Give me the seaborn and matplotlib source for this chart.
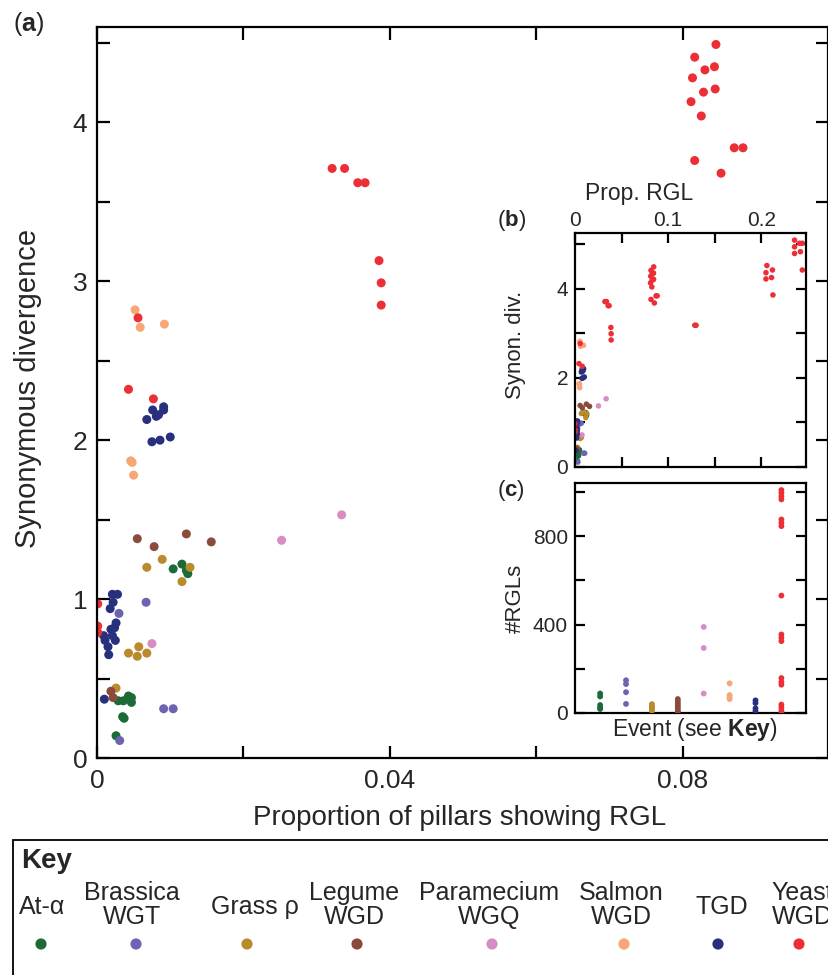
import numpy as np
import pandas as pd
import seaborn as sns
import matplotlib.pyplot as plt
from matplotlib.patches import Rectangle

# ---- data ----
EVENTS = ["At-α", "Brassica\nWGT", "Grass ρ", "Legume\nWGD",
          "Paramecium\nWGQ", "Salmon\nWGD", "TGD", "Yeast\nWGD"]
COLORS = ["#1b6a37", "#6c64b2", "#ba8b2c", "#8b4b3c",
          "#d78cc3", "#f9a677", "#28307e", "#ec2f36"]

# proportion of pillars showing RGL / synonymous divergence, per event
at_prop = [0.0104, 0.0116, 0.0122, 0.0124, 0.0029, 0.0036, 0.0043, 0.0047, 0.0047, 0.0035, 0.0037, 0.0026]
at_ds = [1.19, 1.22, 1.18, 1.16, 0.36, 0.36, 0.39, 0.38, 0.35, 0.26, 0.25, 0.14]
bras_prop = [0.0067, 0.0030, 0.0091, 0.0104, 0.0031]
bras_ds = [0.98, 0.91, 0.31, 0.31, 0.11]
grass_prop = [0.0089, 0.0068, 0.0127, 0.0116, 0.0043, 0.0055, 0.0057, 0.0068, 0.0026]
grass_ds = [1.25, 1.20, 1.20, 1.11, 0.66, 0.64, 0.70, 0.66, 0.44]
leg_prop = [0.0055, 0.0078, 0.0122, 0.0156, 0.0019, 0.0022]
leg_ds = [1.38, 1.33, 1.41, 1.36, 0.42, 0.38]
para_prop = [0.0252, 0.0334, 0.0075]
para_ds = [1.37, 1.53, 0.72]
salm_prop = [0.0052, 0.0059, 0.0092, 0.0046, 0.0048, 0.0050]
salm_ds = [2.82, 2.71, 2.73, 1.87, 1.86, 1.78]
tgd_prop = [0.0076, 0.0091, 0.0091, 0.0084, 0.0081, 0.0068, 0.0075, 0.0086, 0.0100,
            0.0021, 0.0028, 0.0022, 0.0018, 0.0026, 0.0024, 0.0019, 0.0009, 0.0021,
            0.0011, 0.0025, 0.0015, 0.0016, 0.0010]
tgd_ds = [2.19, 2.21, 2.19, 2.16, 2.15, 2.13, 1.99, 2.00, 2.02,
          1.03, 1.03, 0.98, 0.94, 0.85, 0.82, 0.81, 0.77, 0.77,
          0.74, 0.74, 0.70, 0.65, 0.37]
yeast_prop = [0.0001, 0.0001, 0.0001, 0.0043, 0.0077, 0.0056,
              0.0321, 0.0338, 0.0356, 0.0366, 0.0385, 0.0388, 0.0388,
              0.0845, 0.0816, 0.0843, 0.0830, 0.0813, 0.0844, 0.0828, 0.0811, 0.0825,
              0.0870, 0.0882, 0.0816, 0.0852,
              0.1286, 0.1300,
              0.206, 0.212, 0.205, 0.211, 0.205, 0.2125,
              0.2357, 0.241, 0.244, 0.2357, 0.242, 0.2357, 0.244]
yeast_ds = [0.97, 0.83, 0.79, 2.32, 2.26, 2.77,
            3.71, 3.71, 3.62, 3.62, 3.13, 2.99, 2.85,
            4.49, 4.41, 4.35, 4.33, 4.28, 4.21, 4.19, 4.13, 4.04,
            3.84, 3.84, 3.76, 3.68,
            3.18, 3.18,
            4.52, 4.42, 4.36, 4.25, 4.22, 3.86,
            5.09, 5.02, 5.02, 4.94, 4.83, 4.79, 4.42]

# number of RGLs per event (panel c)
at_n = [88, 75, 36, 24, 18]
bras_n = [148, 131, 94, 41]
grass_n = [40, 32, 25, 18, 10]
leg_n = [63, 52, 42, 32, 22, 12, 5]
para_n = [389, 294, 88]
salm_n = [134, 81, 70, 63]
tgd_n = [57, 45, 21, 9]
yeast_n = [1008, 995, 980, 966, 875, 860, 845, 531, 355, 340, 325, 158, 140, 128, 38, 25, 10, 0]

props = [at_prop, bras_prop, grass_prop, leg_prop, para_prop, salm_prop, tgd_prop, yeast_prop]
dss = [at_ds, bras_ds, grass_ds, leg_ds, para_ds, salm_ds, tgd_ds, yeast_ds]
counts = [at_n, bras_n, grass_n, leg_n, para_n, salm_n, tgd_n, yeast_n]

df = pd.concat([pd.DataFrame({"event": e, "prop": p, "ds": d})
                for e, p, d in zip(EVENTS, props, dss)], ignore_index=True)
dfc = pd.concat([pd.DataFrame({"event": e, "n": n})
                 for e, n in zip(EVENTS, counts)], ignore_index=True)
palette = dict(zip(EVENTS, COLORS))

sns.set_style("ticks")
plt.rcParams["font.family"] = ["Liberation Sans", "DejaVu Sans"]
plt.rcParams["mathtext.fontset"] = "custom"
plt.rcParams["mathtext.rm"] = "Liberation Sans"
plt.rcParams["mathtext.bf"] = "Liberation Sans:bold"

W, H = 829, 975
fig = plt.figure(figsize=(W / 100, H / 100), dpi=100)


def box(x0, y0, x1, y1):
    # pixel box (top-left origin) -> figure fraction rect
    return [x0 / W, 1 - y1 / H, (x1 - x0) / W, (y1 - y0) / H]


def fy(y):
    return 1 - y / H


def style_axis(ax, lw=1.6, length=9, size=16, pad=6):
    for s in ax.spines.values():
        s.set_linewidth(lw)
        s.set_color("black")
        s.set_visible(True)
    ax.tick_params(which="both", direction="in", length=length, width=lw,
                   labelsize=size, color="black", pad=pad)


# ---- (a) main panel ----
ax = fig.add_axes(box(97, 27, 828, 758))
sns.scatterplot(data=df, x="prop", y="ds", hue="event", palette=palette,
                s=42, linewidth=0, legend=False, ax=ax)
ax.set_xlim(0, 0.0998)
ax.set_ylim(0, 4.6)
ax.set_xticks([0, 0.04, 0.08])
ax.set_xticklabels(["0", "0.04", "0.08"])
ax.set_xticks([0.02, 0.06], minor=True)
ax.set_yticks([0, 1, 2, 3, 4])
ax.set_yticks([0.5, 1.5, 2.5, 3.5, 4.5], minor=True)
style_axis(ax, size=19, pad=7)
ax.tick_params(axis="x", pad=8)
ax.tick_params(which="both", top=True, right=True)
ax.set_xlabel("")
ax.set_ylabel("")
fig.text(28 / W, fy(388), "Synonymous divergence", rotation=90,
         ha="center", va="center", fontsize=21)
fig.text(460 / W, fy(825), "Proportion of pillars showing RGL",
         ha="center", va="baseline", fontsize=20)
fig.text(13 / W, fy(31), r"($\mathbf{a}$)", ha="left", va="baseline", fontsize=18)

# ---- (b) inset: full range ----
axb = fig.add_axes(box(575, 233, 806, 467))
sns.scatterplot(data=df, x="prop", y="ds", hue="event", palette=palette,
                s=16, linewidth=0, legend=False, ax=axb)
axb.set_xlim(0, 0.248)
axb.set_ylim(0, 5.25)
axb.set_xticks([0, 0.1, 0.2])
axb.set_xticklabels(["0", "0.1", "0.2"])
axb.set_xticks([0.05, 0.15], minor=True)
axb.set_yticks([0, 2, 4])
axb.set_yticks([1, 3, 5], minor=True)
style_axis(axb, lw=1.6, length=7, size=15, pad=5)
axb.tick_params(which="both", top=True, right=True, bottom=True,
                labeltop=True, labelbottom=False)
axb.tick_params(axis="x", pad=2.5)
axb.set_xlabel("")
axb.set_ylabel("")
fig.text(639 / W, fy(200), "Prop. RGL", ha="center", va="baseline", fontsize=16.5)
fig.text(515 / W, fy(345), "Synon. div.", rotation=90,
         ha="center", va="center", fontsize=16)
fig.text(497 / W, fy(226), r"($\mathbf{b}$)", ha="left", va="baseline", fontsize=16)

# ---- (c) inset: RGL counts per event ----
axc = fig.add_axes(box(575, 483, 806, 713))
sns.stripplot(data=dfc, x="event", y="n", hue="event", order=EVENTS,
              palette=palette, jitter=False, size=4.2, linewidth=0,
              legend=False, ax=axc)
axc.set_xlim(-0.97, 7.95)
axc.set_ylim(0, 1040)
axc.set_xticks([])
axc.set_yticks([0, 400, 800])
axc.set_yticks([200, 600, 1000], minor=True)
style_axis(axc, lw=1.6, length=7, size=15, pad=5)
axc.tick_params(which="both", right=True)
axc.set_xlabel("")
axc.set_ylabel("")
fig.text(515 / W, fy(598), "#RGLs", rotation=90,
         ha="center", va="center", fontsize=16)
fig.text(695 / W, fy(736), r"Event (see $\mathbf{Key}$)",
         ha="center", va="baseline", fontsize=16.5)
fig.text(497 / W, fy(496), r"($\mathbf{c}$)", ha="left", va="baseline", fontsize=16)

# ---- key ----
fig.patches.append(Rectangle((13 / W, -0.02), 1.0, fy(840) + 0.02,
                             transform=fig.transFigure, fill=False,
                             lw=1.3, edgecolor="black"))
fig.text(21 / W, fy(868), "Key", fontsize=20, fontweight="bold",
         ha="left", va="baseline")
label_x = [42, 132, 255, 354, 489, 621, 722, 802]
dot_x = [41, 136, 247, 357, 492, 624, 718, 799]
axk = fig.add_axes([0, 0, 1, 1], facecolor="none")
for name, lx in zip(EVENTS, label_x):
    if "\n" in name:
        axk.text(lx, 905, name, ha="center", va="center", fontsize=18, linespacing=1.0)
    else:
        axk.text(lx, 907, name, ha="center", va="center", fontsize=18)
sns.scatterplot(x=dot_x, y=[944] * len(dot_x), hue=EVENTS, palette=palette,
                s=65, linewidth=0, legend=False, ax=axk)
axk.set_xlim(0, W)
axk.set_ylim(H, 0)
axk.axis("off")

fig.savefig("out.png", dpi=100)
